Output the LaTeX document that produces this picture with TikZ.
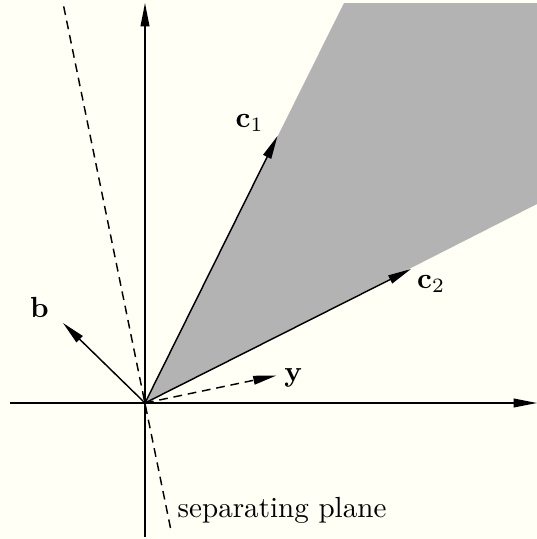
\documentclass[tikz,border=0pt]{standalone}
\usetikzlibrary{arrows.meta}
\definecolor{paper}{RGB}{255,255,246}
\definecolor{conegray}{RGB}{179,179,179}
\begin{document}
\begin{tikzpicture}[x=0.604cm, y=0.604cm, line width=0.5pt,
    vec/.style={-{Triangle[length=8pt,width=3pt]}},
    sepline/.style={dash pattern=on 3pt off 2pt}]
    \fill[paper] (-2.9,-2.72) rectangle (7.84,8.06);
    \useasboundingbox (-2.9,-2.72) rectangle (7.84,8.06);

    % Punkte
    \coordinate (O) at (0,0);
    \coordinate (xl) at (-2.7,0);
    \coordinate (xr) at (7.84,0);
    \coordinate (yb) at (0,-2.68);
    \coordinate (yt) at (0,8.0);
    \coordinate (c1) at (2.65,5.34);
    \coordinate (c2) at (5.32,2.68);
    \coordinate (b) at (-1.64,1.6);
    \coordinate (y) at (2.63,0.55);
    \coordinate (pt) at (-1.64,8.0);
    \coordinate (pb) at (0.51,-2.5);

    % Kegel
    \fill[conegray] (O) -- (3.98,8.0) -- (7.84,8.0) -- (7.84,3.98) -- cycle;

    % Achsen
    \draw[vec] (xl) -- (xr);
    \draw[vec] (yb) -- (yt);

    % Trennebene
    \draw[sepline] (pb) -- (pt);

    % Vektoren
    \draw[vec] (O) -- (c1);
    \draw[vec] (O) -- (c2);
    \draw[vec] (O) -- (b);
    \draw[vec, sepline] (O) -- (y);

    \node[anchor=base west, inner sep=0] (c1label) at (1.8,5.52) {$\mathbf{c}_1$};
    \node[anchor=base west, inner sep=0] (c2label) at (5.43,2.3) {$\mathbf{c}_2$};
    \node[anchor=base, inner sep=0] (blabel) at (-2.11,1.72) {$\mathbf{b}$};
    \node[anchor=base, inner sep=0] (ylabel) at (2.97,0.44) {$\mathbf{y}$};
    \node[anchor=base west, inner sep=0] (planelabel) at (0.64,-2.28) {separating plane};
\end{tikzpicture}
\end{document}
